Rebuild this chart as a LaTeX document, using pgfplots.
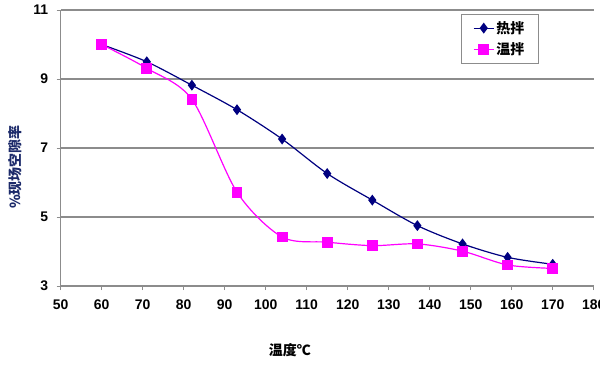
\documentclass[border=0pt]{standalone}
\usepackage{fontspec}
\setmainfont{Liberation Sans}
\newfontfamily\cjk{Noto Sans CJK SC}
\usepackage{pgfplots}
\pgfplotsset{compat=1.18}
\definecolor{hotc}{HTML}{000080}
\definecolor{warmc}{HTML}{FF00FF}
\definecolor{gridc}{HTML}{8C8C8C}
\definecolor{ylab}{HTML}{1C2A6A}
\begin{document}
\begin{tikzpicture}
\useasboundingbox (0,0) rectangle (600bp,367bp);
\begin{axis}[
  at={(60.7bp,81bp)}, anchor=south west,
  scale only axis, width=533bp, height=276bp,
  xmin=50, xmax=180, ymin=3, ymax=11,
  xtick={50,60,...,180}, ytick={3,5,7,9,11},
  axis x line*=bottom, axis y line*=left,
  axis line style={gridc, line width=1pt, -},
  tick style={gridc, line width=0.8pt},
  tick align=outside, major tick length=4bp,
  ymajorgrids, grid style={gridc, line width=1.2pt},
  /pgf/number format/assume math mode=true,
  ticklabel style={font=\bfseries\fontsize{14}{16}\selectfont},
  xticklabel style={yshift=-6bp},
  yticklabel style={xshift=-5bp},
  xlabel={\cjk\bfseries 温度℃},
  xlabel style={at={(rel axis cs:0.430,-0.232)}, anchor=center, font=\fontsize{14}{16}\selectfont},
  ylabel={\cjk\bfseries \%现场空隙率},
  ylabel style={at={(rel axis cs:-0.0857,0.431)}, anchor=center, rotate=0, color=ylab, font=\fontsize{14}{16}\selectfont},
  legend style={at={(0.7505,0.9855)}, anchor=north west, draw=gridc, line width=0.8pt,
    font=\cjk\bfseries\fontsize{14}{16}\selectfont, inner xsep=12bp, inner ysep=5bp,
    row sep=4bp},
  legend cell align=left,
  legend image code/.code={
    \draw[#1, line width=1.2bp, mark=none] (0bp,0bp) -- (20bp,0bp);
    \draw[#1] plot coordinates {(10bp,0bp)};
  },
  clip=false,
]
\addplot[hotc, line width=1.2bp, smooth, tension=0.5, mark=diamond*, mark size=4.5bp, mark options={solid, fill=hotc}]
coordinates {(60,10.0) (71,9.50) (82,8.82) (93,8.11) (104,7.26) (115,6.26) (126,5.49) (137,4.75) (148,4.22) (159,3.83) (170,3.63)};
\addlegendentry{热拌}
\addplot[warmc, line width=1.2bp, smooth, tension=0.5, mark=square*, mark size=4.8bp, mark options={solid, fill=warmc}]
coordinates {(60,10.0) (71,9.31) (82,8.41) (93,5.72) (104,4.42) (115,4.27) (126,4.17) (137,4.22) (148,4.01) (159,3.61) (170,3.51)};
\addlegendentry{温拌}
\end{axis}
\end{tikzpicture}
\end{document}
